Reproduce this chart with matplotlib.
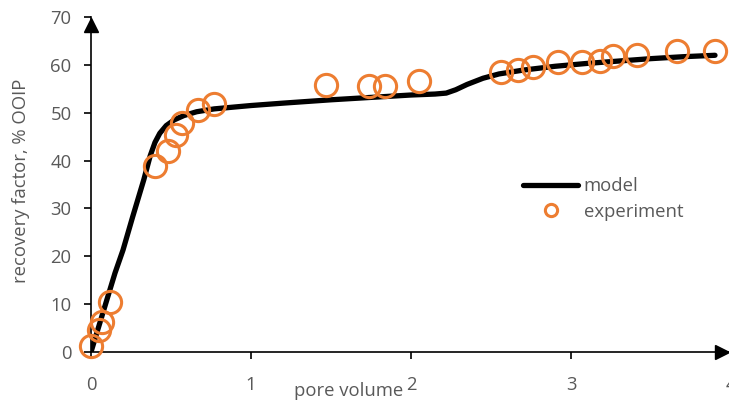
import matplotlib
matplotlib.use("Agg")
import matplotlib.pyplot as plt

# Model curve (recovery factor vs injected pore volume)
model_pv = [0, 0.05, 0.1, 0.15, 0.2, 0.26, 0.33, 0.37, 0.4, 0.43, 0.47, 0.52, 0.58,
            0.66, 0.77, 0.9, 1.0, 1.2, 1.5, 1.8, 2.0, 2.15, 2.22, 2.28, 2.35, 2.45,
            2.55, 2.7, 2.9, 3.1, 3.3, 3.5, 3.7, 3.9]
model_rf = [0, 5.5, 11, 16.5, 21.3, 28.2, 36, 41, 43.8, 45.7, 47.3, 48.5, 49.4,
            50.2, 50.8, 51.2, 51.5, 52, 52.7, 53.3, 53.7, 53.9, 54.1, 54.8, 55.9, 57.2,
            58.1, 58.9, 59.7, 60.3, 60.8, 61.3, 61.7, 62.0]

# Experimental measurements
exp_pv = [0.0, 0.05, 0.07, 0.12, 0.40, 0.48, 0.53, 0.57, 0.67, 0.77, 1.47, 1.74,
          1.84, 2.05, 2.56, 2.67, 2.76, 2.92, 3.07, 3.18, 3.26, 3.41, 3.66, 3.90]
exp_rf = [1.3, 4.6, 6.3, 10.5, 38.9, 42.0, 45.3, 47.9, 50.5, 51.8, 55.7, 55.5,
          55.6, 56.6, 58.5, 58.9, 59.6, 60.6, 60.6, 60.8, 61.9, 62.0, 62.9, 62.9]

x_ticks = [0, 1, 2, 3, 4]
y_ticks = [0, 10, 20, 30, 40, 50, 60, 70]

gray = "#595959"
orange = "#ED7D31"
fs = 13.3
plt.rcParams["font.family"] = ["Open Sans", "DejaVu Sans"]

W, H = 729, 403
fig = plt.figure(figsize=(W / 100, H / 100), dpi=100)
ax = fig.add_axes([91 / W, 1 - 352 / H, 640 / W, 335 / H])

ax.plot(model_pv, model_rf, color="black", lw=3.8, solid_capstyle="round",
        label="model", zorder=2)
ax.plot(exp_pv, exp_rf, linestyle="none", marker="o", markersize=16,
        markerfacecolor="none", markeredgecolor=orange, markeredgewidth=2.2,
        label="experiment", zorder=3, clip_on=False)

ax.set_xlim(0, 4)
ax.set_ylim(0, 70)
ax.set_xticks(x_ticks)
ax.set_yticks(y_ticks)
ax.tick_params(axis="both", colors="black", labelcolor=gray, labelsize=fs,
               length=5, width=1.2, direction="out")
ax.tick_params(axis="x", pad=12)
ax.tick_params(axis="y", pad=9)
for lbl in ax.get_xticklabels() + ax.get_yticklabels():
    lbl.set_clip_on(False)

for side in ("top", "right"):
    ax.spines[side].set_visible(False)
for side in ("left", "bottom"):
    ax.spines[side].set_linewidth(1.2)
    ax.spines[side].set_color("black")

# arrow heads at the ends of the axes
ax.plot(0, 68.4, marker="^", color="black", markersize=10, clip_on=False, zorder=4)
ax.plot(3.943, 0, marker=">", color="black", markersize=10, clip_on=False, zorder=4)

fig.text(349 / W, 1 - 391 / H, "pore volume", color=gray, fontsize=fs,
         ha="center", va="center")
fig.text(21 / W, 1 - 181 / H, "recovery factor, % OOIP", color=gray,
         fontsize=fs, rotation=90, ha="center", va="center")

leg = fig.legend(*ax.get_legend_handles_labels(), loc="upper left",
                 bbox_to_anchor=(523 / W, 1 - 177 / H),
                 frameon=False, fontsize=fs, handlelength=3.0, handletextpad=0.28,
                 labelspacing=0.42, markerscale=0.55, borderaxespad=0, borderpad=0)
for t in leg.get_texts():
    t.set_color(gray)

fig.savefig("out.png", dpi=100)
